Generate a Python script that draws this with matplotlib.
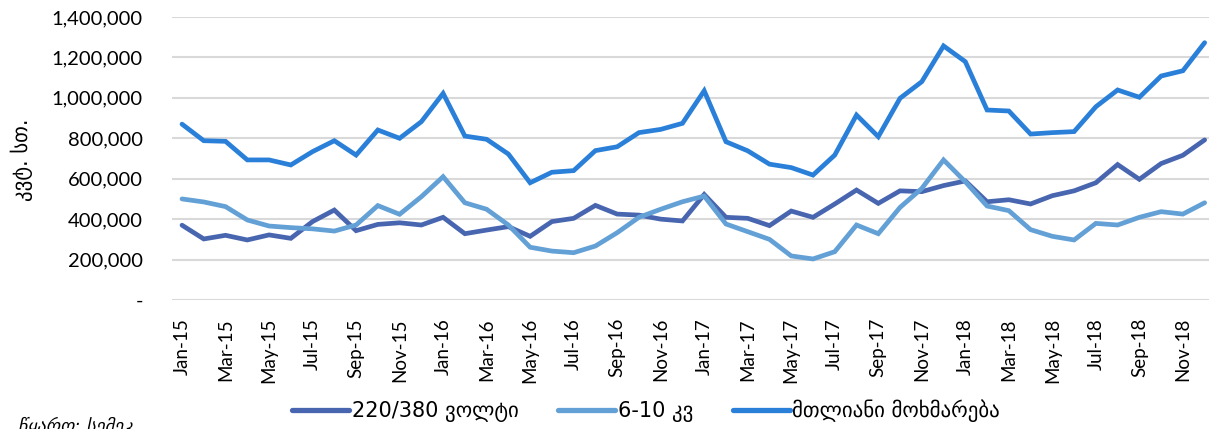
import matplotlib
matplotlib.use("Agg")
import matplotlib.pyplot as plt
import numpy as np

months = ["Jan-15","Feb-15","Mar-15","Apr-15","May-15","Jun-15","Jul-15","Aug-15","Sep-15","Oct-15","Nov-15","Dec-15",
          "Jan-16","Feb-16","Mar-16","Apr-16","May-16","Jun-16","Jul-16","Aug-16","Sep-16","Oct-16","Nov-16","Dec-16",
          "Jan-17","Feb-17","Mar-17","Apr-17","May-17","Jun-17","Jul-17","Aug-17","Sep-17","Oct-17","Nov-17","Dec-17",
          "Jan-18","Feb-18","Mar-18","Apr-18","May-18","Jun-18","Jul-18","Aug-18","Sep-18","Oct-18","Nov-18","Dec-18"]

v220_380 = [370, 302, 320, 297, 322, 305, 388, 445, 343, 374, 382, 371,
            409, 328, 346, 363, 315, 388, 404, 468, 425, 420, 400, 391,
            522, 409, 404, 368, 440, 409, 475, 544, 478, 540, 536, 566,
            589, 486, 496, 475, 516, 540, 580, 670, 597, 675, 716, 792]
v6_10 = [500, 485, 462, 396, 366, 358, 352, 341, 371, 467, 424, 511,
         610, 481, 449, 371, 261, 242, 234, 267, 333, 409, 449, 486,
         514, 376, 338, 300, 218, 203, 239, 371, 328, 458, 552, 693,
         585, 465, 442, 348, 315, 297, 379, 371, 409, 437, 425, 481]
v_total = [870, 788, 785, 693, 693, 668, 734, 788, 717, 841, 800, 882,
           1022, 811, 795, 722, 580, 632, 640, 739, 758, 828, 844, 874,
           1035, 783, 738, 672, 655, 618, 717, 915, 808, 998, 1080, 1257,
           1179, 940, 935, 821, 828, 833, 956, 1039, 1003, 1108, 1134, 1273]

series_names = ["220/380 ვოლტი", "6-10 კვ", "მთლიანი მოხმარება"]
y_ticks = [0, 200000, 400000, 600000, 800000, 1000000, 1200000, 1400000]
y_ticklabels = ["-", "200,000", "400,000", "600,000", "800,000", "1,000,000", "1,200,000", "1,400,000"]
y_label = "კვტ. სთ."
source_text = "წყარო: სემეკ"

FONT = ["Lato", "DejaVu Sans"]
GEO = ["DejaVu Sans"]
plt.rcParams["font.family"] = FONT

W, H = 1209, 429
fig = plt.figure(figsize=(W/100, H/100), dpi=100)
ax = fig.add_axes([172/W, 1-300/H, (W-172)/W, (300-17)/H])

x = np.arange(len(months))
colors = ["#4866B0", "#62A0D6", "#2A80D9"]
for vals, c, name in zip([v220_380, v6_10, v_total], colors, series_names):
    ax.plot(x, np.array(vals)*1000, color=c, lw=3.4, label=name,
            solid_joinstyle="miter", solid_capstyle="round")

ax.set_ylim(0, 1400000)
ax.set_xlim(-0.46, 47.2)
ax.set_yticks(y_ticks)
ax.set_yticklabels(y_ticklabels, fontsize=14.5)
ax.set_xticks(x[::2])
ax.set_xticklabels(months[::2], rotation=90, fontsize=13.5)
ax.tick_params(length=0)
ax.tick_params(axis="x", pad=13)
ax.tick_params(axis="y", pad=21)
ax.grid(axis="y", color="#d9d9d9", lw=1.5)
ax.set_axisbelow(True)
for s in ax.spines.values():
    s.set_visible(False)

fig.text(22/W, 1-160/H, y_label, rotation=90, fontsize=15, family=GEO,
         ha="center", va="center")

leg = fig.legend(loc="center", bbox_to_anchor=(646/W, 1-411/H), ncol=3, frameon=False,
                 prop={"family": GEO, "size": 15}, handlelength=2.75,
                 columnspacing=1.9, handletextpad=0.12)
for line in leg.get_lines():
    line.set_linewidth(3.8)

fig.text(18/W, 1-417/H, source_text, fontsize=13, style="italic", family=GEO,
         ha="left", va="top")

fig.savefig("out.png", dpi=100)
